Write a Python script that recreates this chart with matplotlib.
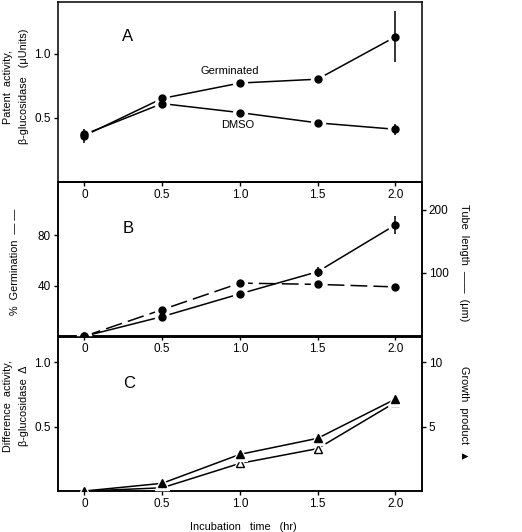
import matplotlib
matplotlib.use("Agg")
import matplotlib.pyplot as plt

plt.rcParams['font.family'] = ['Liberation Sans', 'DejaVu Sans']

# incubation time (hr)
time = [0, 0.5, 1.0, 1.5, 2.0]
time_labels = ["0", "0.5", "1.0", "1.5", "2.0"]

# panel A: patent activity, beta-glucosidase (uUnits)
germinated = [0.36, 0.65, 0.77, 0.80, 1.13]
germinated_err = [0.055, 0.0, 0.0, 0.025, 0.20]
dmso = [0.37, 0.61, 0.54, 0.46, 0.41]
dmso_err = [0.0, 0.0, 0.0, 0.0, 0.045]

# panel B: % germination (dashed) and tube length um (solid)
germination_pct = [0, 21, 42, 41, 39]
tube_length = [0, 31, 67, 102, 176]
tube_err = [0, 0, 0, 8, 14]

# panel C: difference activity (open) and growth product (filled)
diff_activity = [0.0, 0.025, 0.215, 0.33, 0.69]
growth_product = [0.0, 0.6, 2.85, 4.1, 7.15]

fig = plt.figure(figsize=(5.22, 5.32), dpi=100)
L, W = 0.111, 0.697
axA = fig.add_axes([L, 0.658, W, 0.338])
axB = fig.add_axes([L, 0.368, W, 0.290])
axC = fig.add_axes([L, 0.077, W, 0.290])

tick_kw = dict(direction='out', length=3, width=1, labelsize=8.5, pad=2)
lab_kw = dict(fontsize=7.8, linespacing=1.7)


def gapped(ax, x, y, ls='-', marker='o', ms=5, mfc='black', yerr=None):
    # line broken near the markers, like the original drawing
    ax.plot(x, y, color='black', lw=1.1, ls=ls, dashes=(11, 4) if ls == '--' else (None, None), zorder=2)
    ax.plot(x, y, ls='none', marker=marker, ms=ms + 5, mfc='white', mec='white', zorder=3)
    if yerr is not None:
        ax.errorbar(x, y, yerr=yerr, fmt='none', ecolor='black', elinewidth=1.1, capsize=0, zorder=4)
    ax.plot(x, y, ls='none', marker=marker, ms=ms, mfc=mfc, mec='black', mew=1, zorder=5)


for ax in (axA, axB, axC):
    ax.patch.set_visible(False)
    ax.set_xlim(-0.17, 2.17)
    ax.set_xticks(time)
    ax.set_xticklabels(time_labels)
    ax.tick_params(**tick_kw)
    for s in ax.spines.values():
        s.set_linewidth(1.1)

# A
gapped(axA, time, germinated, yerr=germinated_err)
gapped(axA, time, dmso, yerr=dmso_err)
axA.set_ylim(0, 1.4)
axA.set_yticks([0.5, 1.0])
axA.set_yticklabels(["0.5", "1.0"])
axA.text(0.75, 0.867, "Germinated", fontsize=8, va='center')
axA.text(0.878, 0.445, "DMSO", fontsize=8, va='center')
axA.text(0.28, 1.133, "A", fontsize=12, ha='center', va='center')
axA.set_ylabel("Patent  activity,\nβ-glucosidase   (μUnits)", **lab_kw)
axA.yaxis.set_label_coords(-0.08, 0.53)

# B
axB2 = axB.twinx()
axB2.set_ylim(0, 244)
axB.set_ylim(0, 122)
gapped(axB2, time, [g * 2 for g in germination_pct], ls='--')
gapped(axB2, time, tube_length, yerr=tube_err)
axB.set_yticks([40, 80])
axB.set_yticklabels(["40", "80"])
axB2.set_yticks([100, 200])
axB2.set_yticklabels(["100", "200"])
axB2.tick_params(**tick_kw)
axB.text(0.28, 84.8, "B", fontsize=12, ha='center', va='center')
axB.set_ylabel("%  Germination  — —", **lab_kw)
axB.yaxis.set_label_coords(-0.105, 0.48)
axB2.set_ylabel("Tube  length  ——  (μm)", rotation=-90, **lab_kw)
axB2.yaxis.set_label_coords(1.13, 0.48)

# C
axC2 = axC.twinx()
axC.set_ylim(0, 1.2)
axC2.set_ylim(0, 12)
gapped(axC, time, diff_activity, marker='^', ms=5.5, mfc='white')
gapped(axC2, time, growth_product, marker='^', ms=5.5, mfc='black')
axC.set_yticks([0.5, 1.0])
axC.set_yticklabels(["0.5", "1.0"])
axC2.set_yticks([5, 10])
axC2.set_yticklabels(["5", "10"])
axC2.tick_params(**tick_kw)
axC.text(0.29, 0.84, "C", fontsize=12, ha='center', va='center')
axC.set_ylabel("Difference  activity,\nβ-glucosidase  Δ", **lab_kw)
axC.yaxis.set_label_coords(-0.08, 0.55)
axC2.set_ylabel("Growth  product  ▲", rotation=-90, **lab_kw)
axC2.yaxis.set_label_coords(1.13, 0.5)
axC.set_xlabel("Incubation   time   (hr)", fontsize=7.8)
axC.xaxis.set_label_coords(0.51, -0.2)

for ax in (axB2, axC2):
    ax.patch.set_visible(False)
    for s in ax.spines.values():
        s.set_linewidth(1.1)

fig.savefig("out.png", dpi=100)
